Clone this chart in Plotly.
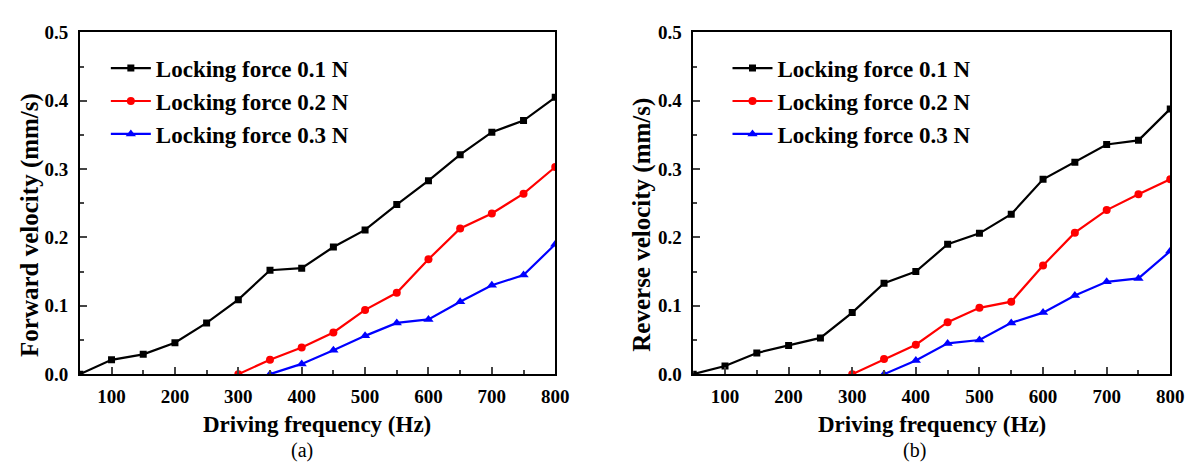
import plotly.graph_objects as go

# ---------------- data ----------------
freq = [50, 100, 150, 200, 250, 300, 350, 400, 450, 500, 550, 600, 650, 700, 750, 800]
freq_02 = [300, 350, 400, 450, 500, 550, 600, 650, 700, 750, 800]
freq_03 = [350, 400, 450, 500, 550, 600, 650, 700, 750, 800]

fwd_01 = [0.0, 0.021, 0.029, 0.046, 0.075, 0.109, 0.152, 0.155, 0.186, 0.211, 0.248, 0.283, 0.321, 0.354, 0.371, 0.405]
fwd_02 = [0.0, 0.021, 0.039, 0.061, 0.094, 0.119, 0.168, 0.213, 0.235, 0.264, 0.303]
fwd_03 = [0.0, 0.015, 0.035, 0.056, 0.075, 0.080, 0.106, 0.130, 0.145, 0.190]

rev_01 = [0.0, 0.012, 0.031, 0.042, 0.053, 0.090, 0.133, 0.150, 0.190, 0.206, 0.234, 0.285, 0.310, 0.336, 0.342, 0.388]
rev_02 = [0.0, 0.022, 0.043, 0.076, 0.097, 0.106, 0.159, 0.207, 0.240, 0.263, 0.285]
rev_03 = [0.0, 0.020, 0.045, 0.050, 0.075, 0.090, 0.115, 0.135, 0.140, 0.180]

series_names = ["Locking force 0.1 N", "Locking force 0.2 N", "Locking force 0.3 N"]
colors = ["#000000", "#FF0000", "#0000FF"]
symbols = ["square", "circle", "triangle-up"]
marker_sizes = [7, 8, 9]

x_title = "Driving frequency (Hz)"
y_titles = ["Forward velocity (mm/s)", "Reverse velocity (mm/s)"]
panel_labels = ["(a)", "(b)"]

FONT = "Liberation Serif"
W, H = 1199, 465

fig = go.Figure()

panels = [
    ("x", "y", "legend", [(freq, fwd_01), (freq_02, fwd_02), (freq_03, fwd_03)]),
    ("x2", "y2", "legend2", [(freq, rev_01), (freq_02, rev_02), (freq_03, rev_03)]),
]
for xa, ya, lg, data in panels:
    for i, (xs, ys) in enumerate(data):
        fig.add_trace(go.Scatter(
            x=xs, y=ys, mode="lines+markers", name=series_names[i],
            line=dict(color=colors[i], width=2.2),
            marker=dict(symbol=symbols[i], size=marker_sizes[i], color=colors[i]),
            xaxis=xa, yaxis=ya, legend=lg,
        ))

# pixel geometry
px = lambda v: v / W
py = lambda v: 1 - v / H
left_dom = [px(72.7), px(553.7)]
right_dom = [px(693.3), px(1176)]
y_dom = [py(373), py(15)]

tickfont = dict(family=FONT, size=19, color="black", weight="bold")
common_x = dict(range=[50, 800], dtick=100, tick0=0, ticks="inside", ticklen=7, tickwidth=1.5,
                showline=True, linecolor="black", linewidth=1.5, mirror=True, showgrid=False,
                zeroline=False, tickfont=tickfont, ticklabelstandoff=4,
                minor=dict(dtick=50, tick0=0, ticks="inside", ticklen=4, tickwidth=1.5, showgrid=False))
common_y = dict(range=[0, 0.5], dtick=0.1, tick0=0, tickformat=".1f", ticks="inside", ticklen=7, tickwidth=1.5,
                showline=True, linecolor="black", linewidth=1.5, mirror=True, showgrid=False,
                zeroline=False, tickfont=tickfont, ticklabelstandoff=6,
                minor=dict(dtick=0.05, tick0=0, ticks="inside", ticklen=4, tickwidth=1.5, showgrid=False))

legend_font = dict(family=FONT, size=23, color="black", weight="bold")
fig.update_layout(
    width=W, height=H,
    margin=dict(l=0, r=0, t=0, b=0),
    paper_bgcolor="white", plot_bgcolor="white",
    xaxis=dict(domain=left_dom, anchor="y", **common_x),
    yaxis=dict(domain=y_dom, anchor="x", **common_y),
    xaxis2=dict(domain=right_dom, anchor="y2", **common_x),
    yaxis2=dict(domain=y_dom, anchor="x2", **common_y),
    legend=dict(x=px(99), y=py(30), xanchor="left", yanchor="top", font=legend_font,
                bgcolor="rgba(0,0,0,0)", tracegroupgap=0, itemwidth=40),
    legend2=dict(x=px(728), y=py(30), xanchor="left", yanchor="top", font=legend_font,
                 bgcolor="rgba(0,0,0,0)", tracegroupgap=0, itemwidth=40),
    showlegend=True,
)

title_font = dict(family=FONT, size=23, color="black", weight="bold")
ytitle_font = dict(family=FONT, size=25, color="black", weight="bold")
ann = []
# y titles
ann.append(dict(text=y_titles[0], x=px(22), y=py(217), xref="paper", yref="paper",
                showarrow=False, textangle=-90, font=ytitle_font, xanchor="center", yanchor="middle"))
ann.append(dict(text=y_titles[1], x=px(642), y=py(217), xref="paper", yref="paper",
                showarrow=False, textangle=-90, font=ytitle_font, xanchor="center", yanchor="middle"))
# x titles
ann.append(dict(text=x_title, x=px(313), y=py(426), xref="paper", yref="paper",
                showarrow=False, font=title_font, xanchor="center", yanchor="middle"))
ann.append(dict(text=x_title, x=px(934.7), y=py(426), xref="paper", yref="paper",
                showarrow=False, font=title_font, xanchor="center", yanchor="middle"))
# panel labels
lab_font = dict(family=FONT, size=20, color="black")
ann.append(dict(text=panel_labels[0], x=px(297), y=py(453), xref="paper", yref="paper",
                showarrow=False, font=lab_font, xanchor="center", yanchor="middle"))
ann.append(dict(text=panel_labels[1], x=px(917), y=py(453), xref="paper", yref="paper",
                showarrow=False, font=lab_font, xanchor="center", yanchor="middle"))
fig.update_layout(annotations=ann)

fig.write_html("out.html")
